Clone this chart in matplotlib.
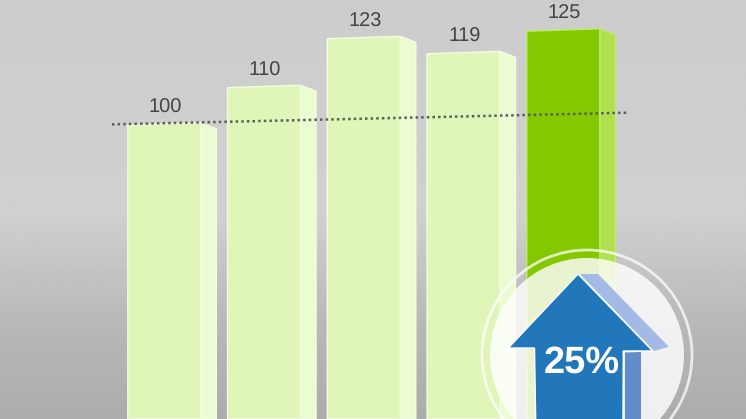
import numpy as np
import matplotlib
matplotlib.use('Agg')
import matplotlib.pyplot as plt
from matplotlib.patches import Circle, Polygon

# ---------- 1. data ----------
values = [100, 110, 123, 119, 125]
labels = ['100', '110', '123', '119', '125']
trend_x = [-0.525, 4.637]
trend_y = [99.9, 103.0]
growth_label = '25%'

# ---------- 2. scales (px per unit) ----------
W, H = 746, 419
px_x = 99.75
px_y = 3.76
center0 = 164.3
base_y = 124.0
bar_w = 73 / px_x
side_w = 15.5 / px_x
side_drop = 6 / px_y
skew = 1.2 / px_y

plt.rcParams['font.family'] = ['Liberation Sans', 'DejaVu Sans']
plt.rcParams['text.hinting'] = 'no_hinting'
plt.rcParams['text.hinting_factor'] = 1
fig = plt.figure(figsize=(W / 100, H / 100), dpi=100)

# ---------- 3. background ----------
bg = fig.add_axes([0, 0, 1, 1])
bg.axis('off')
grad_pos = [0, 215, 250, 330, 419]
grad_col = [204, 208, 200, 183, 172]
grad = np.interp(np.arange(H), grad_pos, grad_col).reshape(-1, 1)
bg.imshow(grad, cmap='gray', vmin=0, vmax=255, aspect='auto')

# ---------- 4. bars ----------
ax = fig.add_axes([0, 0, 1, 1])
ax.patch.set_alpha(0)
ax.axis('off')
ax.set_xlim(-center0 / px_x, (W - center0) / px_x)
ax.set_ylim(100 - (H - base_y) / px_y, 100 + base_y / px_y)
bottom = ax.get_ylim()[0]

for i, v in enumerate(values):
    last = i == len(values) - 1
    front = '#84c800' if last else '#e0f5b8'
    side = '#b0e050' if last else '#ebfbd2'
    edge = '#bdec6c' if last else '#f2fde0'
    l = i - bar_w / 2
    r = i + bar_w / 2
    ax.add_patch(Polygon([(r, bottom), (r, v + skew), (r + side_w, v + skew - side_drop),
                          (r + side_w, bottom)], fc=side, ec=edge, lw=1, zorder=2))
    ax.add_patch(Polygon([(l, bottom), (l, v - skew), (r, v + skew), (r, bottom)],
                         fc=front, ec=edge, lw=1, zorder=3))
    ax.text(i + 0.01, v + 11 / px_y, labels[i], ha='center', va='baseline',
            fontsize=14.5, color='#444444', zorder=4)

ax.plot(trend_x, trend_y, color='#5a5f5a', lw=1.8, ls=(0, (1, 1.25)), zorder=5)

# ---------- 5. badge, in pixels ----------
top = fig.add_axes([0, 0, 1, 1])
top.patch.set_alpha(0)
top.axis('off')
top.set_xlim(0, W)
top.set_ylim(H, 0)

top.add_patch(Circle((587, 355), 97, fc='white', alpha=0.82, ec='none', zorder=1))
top.add_patch(Circle((587, 355), 105, fc='none', ec='white', alpha=0.75, lw=2, zorder=1))

top.add_patch(Polygon([(580, 274), (598, 274), (668.7, 346.7), (654, 351)],
                      fc='#a3b9e6', ec='none', zorder=2))
top.add_patch(Polygon([(625, 352.5), (641, 352), (641, 420), (625, 420)],
                      fc='#5f8ec8', ec='none', zorder=2))
top.add_patch(Polygon([(578, 274), (508.3, 348), (534.5, 348), (535.7, 420), (623, 420),
                       (623.3, 351), (652.7, 351)],
                      fc='#2277bb', ec='white', lw=1, zorder=3))
top.text(581.7, 373, growth_label, ha='center', va='baseline', fontsize=27,
         fontweight='bold', color='white', zorder=4)

fig.savefig('out.png', dpi=100)
